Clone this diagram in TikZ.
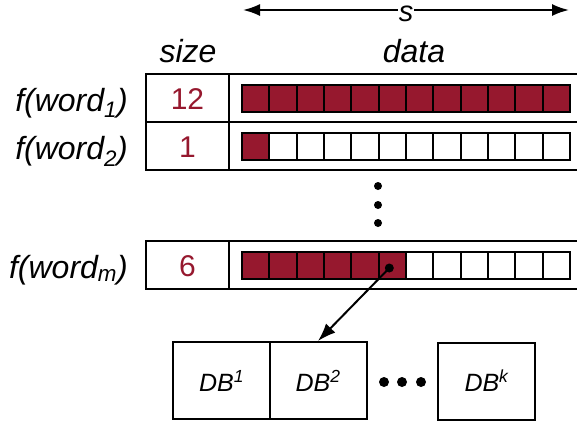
\documentclass[tikz,border=0pt]{standalone}
\usepackage{fontspec}
\setmainfont{Liberation Sans}
\usepackage{tikz}
\usetikzlibrary{arrows.meta}
\definecolor{dbred}{RGB}{150,24,46}
\tikzstyle{line} = [draw, line width=2pt, -{Latex[length=18pt,width=13pt]}]
\tikzstyle{dimline} = [draw, line width=2pt, {Latex[length=17pt,width=12pt]}-{Latex[length=17pt,width=12pt]}]
\tikzstyle{box} = [draw, line width=2pt, inner sep=0pt]
\tikzstyle{cell} = [draw, line width=2pt, minimum width=27.33pt, minimum height=27pt, inner sep=0pt]
\tikzstyle{lbl} = [inner sep=0pt, font=\fontsize{32}{36}\selectfont\itshape]
\tikzstyle{num} = [inner sep=0pt, text=dbred, font=\fontsize{30}{36}\selectfont]
\tikzstyle{dbbox} = [box, minimum width=97pt, minimum height=77pt, font=\fontsize{25}{30}\selectfont\itshape]

\begin{document}
\begin{tikzpicture}[x=1pt, y=-1pt]
    \useasboundingbox (0,0) rectangle (577,424);
    % headers
    \coordinate (sl) at (243,10);
    \coordinate (sr) at (569,10);
    \path [dimline] (sl) -- (sr);
    \node [fill=white, inner sep=1pt, anchor=base, font=\fontsize{29}{34}\selectfont\itshape] (slbl) at (406,21) {s};
    \node [lbl, anchor=base] (sizehd) at (188,62) {size};
    \node [lbl, anchor=base] (datahd) at (414,62) {data};
    % rows
    \foreach \y/\n/\r/\b in {98/12/1/111, 146/1/2/159, 265/6/m/278} {
        \node [box, minimum width=83pt, minimum height=48pt] (s\r) at (187.5,\y) {};
        \node [box, minimum width=371pt, minimum height=48pt] (d\r) at (414.5,\y) {};
        \node [num, anchor=base] (n\r) at (187.5,\b-2) {\n};
        \node [lbl, anchor=base east] (w\r) at (128,\b) {f(word\textsubscript{\r})};
        \foreach \i in {1,...,12} {
            \ifnum\i>\n
                \node [cell] (c\r-\i) at (228.33+27.33*\i,\y) {};
            \else
                \node [cell, fill=dbred] (c\r-\i) at (228.33+27.33*\i,\y) {};
            \fi
        }
    }
    % vertical dots
    \foreach \y in {186,205,223} \fill (378,\y) circle (4);
    % databases
    \node [dbbox] (db1) at (221.5,380.5) {DB\textsuperscript{1}};
    \node [dbbox] (db2) at (318,380.5) {DB\textsuperscript{2}};
    \node [dbbox] (dbk) at (486.5,381) {DB\textsuperscript{k}};
    \foreach \x in {384,402,421} \fill (\x,382) circle (5);
    % pointer
    \coordinate (src) at ([shift={(-3,3)}]cm-6.center);
    \fill (src) circle (4.5);
    \path [line] (src) -- (db2.north);
\end{tikzpicture}
\end{document}
